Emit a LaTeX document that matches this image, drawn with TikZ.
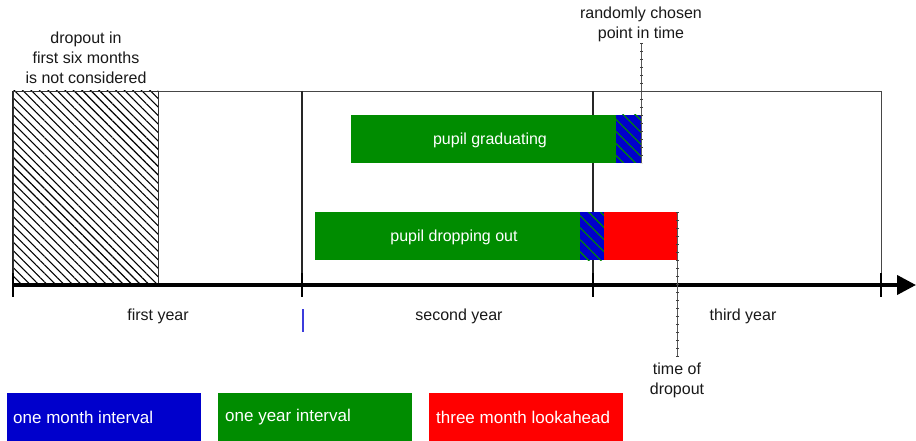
\documentclass[tikz,border=0pt]{standalone}
\usepackage{fontspec}
\setmainfont{Liberation Sans}
\usetikzlibrary{arrows.meta,patterns.meta}
\definecolor{bargreen}{RGB}{0,140,0}
\definecolor{barblue}{RGB}{0,0,204}
\definecolor{barred}{RGB}{255,0,0}
\definecolor{framegray}{RGB}{70,70,70}
\begin{document}
\begin{tikzpicture}[x=1pt,y=-1pt,
  lbl/.style={font=\fontsize{16}{20}\selectfont, align=center, inner sep=0pt, text=black!90},
  barlbl/.style={font=\fontsize{16}{20}\selectfont, inner sep=0pt, text=white},
  leglbl/.style={font=\fontsize{17}{20}\selectfont, inner sep=0pt, text=white, anchor=west},
  frameline/.style={draw=framegray, line width=0.9pt},
  yearline/.style={draw=black!85, line width=1.2pt},
  axistick/.style={draw=black, line width=2.6pt},
  tickline/.style={draw=black!65, line width=1pt,
     postaction={draw=black!75, line width=3pt, dash pattern=on 0.8pt off 7.2pt}},
  bluehatch/.style={pattern={Lines[angle=-45,distance=8.5pt,line width=1.2pt]}, pattern color=bargreen},
  blackhatch/.style={pattern={Lines[angle=-45,distance=6pt,line width=1.1pt]}, pattern color=black}
]
\useasboundingbox (0,0) rectangle (916,441);
\fill[white] (0,0) rectangle (916,441);

% frame
\coordinate (tl) at (13,91);
\coordinate (tr) at (881,91);
\coordinate (bl) at (13,285);
\coordinate (br) at (881,285);
\draw[frameline] (tl) -- (tr);
\draw[frameline] (tr) -- (br);
\draw[yearline] (tl) -- (bl);
\coordinate (y2t) at (302,91);
\coordinate (y2b) at (302,285);
\coordinate (y3t) at (593,91);
\coordinate (y3b) at (593,285);
\draw[yearline] (y2t) -- (y2b);
\draw[yearline] (y3t) -- (y3b);

% hatched first six months
\draw[black!80, line width=0.9pt, blackhatch] (13,91) rectangle (158,284);

% pupil graduating
\fill[bargreen] (351,115) rectangle (616,163);
\fill[barblue] (616,115) rectangle (641,163);
\fill[bluehatch] (616,115) rectangle (641,163);
\node[barlbl] (grad) at (490,140) {pupil graduating};

% pupil dropping out
\fill[bargreen] (315,212) rectangle (580,260);
\fill[barblue] (580,212) rectangle (604,260);
\fill[bluehatch] (580,212) rectangle (604,260);
\fill[barred] (604,212) rectangle (677,260);
\node[barlbl] (drop) at (454,237) {pupil dropping out};

% axis
\coordinate (ax0) at (13,285);
\coordinate (ax1) at (916,285);
\draw[line width=4pt, -{Triangle[length=19pt,width=19pt]}] (ax0) -- (ax1);
\foreach \x/\n in {13/a,302/b,593/c,881/d} {
  \coordinate (t\n1) at (\x,273);
  \coordinate (t\n2) at (\x,297);
  \draw[axistick] (t\n1) -- (t\n2);
}

% dotted time markers
\coordinate (rt) at (641,43);
\coordinate (rb) at (641,163);
\draw[tickline] (rt) -- (rb);
\coordinate (dt) at (677,212);
\coordinate (db) at (677,357);
\draw[tickline] (dt) -- (db);

% small blue mark
\coordinate (bm1) at (303,309);
\coordinate (bm2) at (303,332);
\draw[draw={rgb,255:red,60;green,60;blue,220}, line width=1.2pt] (bm1) -- (bm2);

% labels
\node[lbl] (six) at (86,58) {dropout in\\first six months\\is not considered};
\node[lbl] (rand) at (641,24) {randomly chosen\\point in time};
\node[lbl] (tod) at (677,380) {time of\\dropout};
\node[lbl] (fy) at (158,316) {first year};
\node[lbl] (sy) at (459,316) {second year};
\node[lbl] (ty) at (743,316) {third year};

% legend
\fill[barblue] (7,393) rectangle (201,441);
\node[leglbl] (l1) at (13,417) {one month interval};
\fill[bargreen] (218,393) rectangle (412,441);
\node[leglbl] (l2) at (225,417) {one year interval};
\fill[barred] (429,393) rectangle (623,441);
\node[leglbl] (l3) at (436,417) {three month lookahead};
\end{tikzpicture}
\end{document}
